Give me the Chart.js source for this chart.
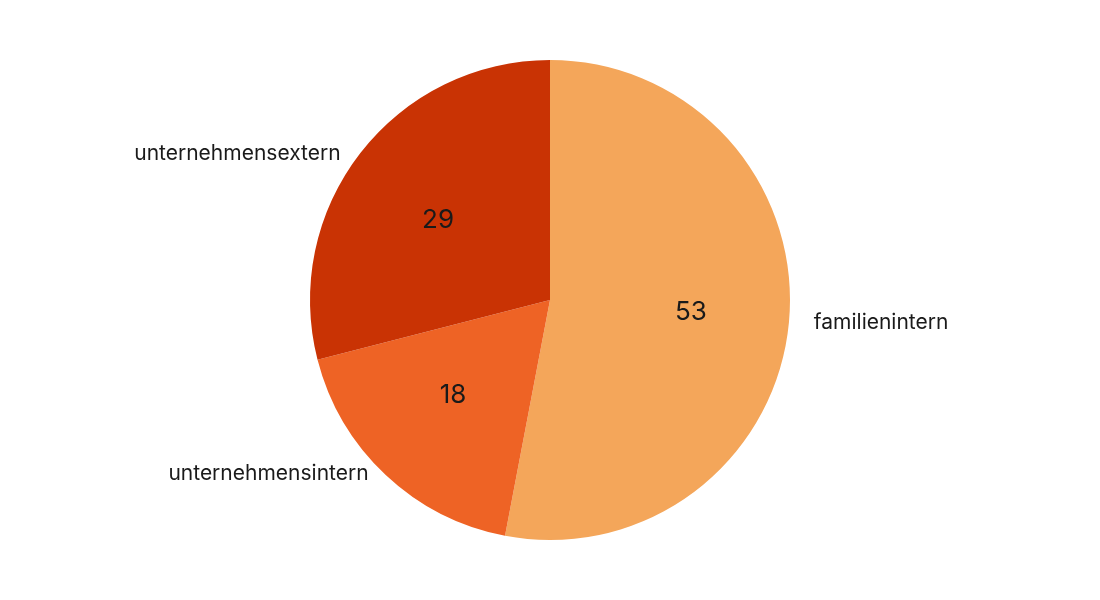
<!DOCTYPE html>
<html lang="de">
<head>
    <meta charset="UTF-8">
    <title>Nachfolge</title>
    <script src="https://cdn.jsdelivr.net/npm/chart.js"></script>
    <style>
        html, body { margin: 0; padding: 0; background: #fff; }
        #wrap { width: 1100px; height: 600px; }
    </style>
</head>
<body>
    <div id="wrap"><canvas id="pieChart" width="1100" height="600"></canvas></div>
    <script>
        // Daten
        const categories = ["familienintern", "unternehmensintern", "unternehmensextern"];
        const values = [53, 18, 29];
        const colors = ["#F4A65A", "#EE6325", "#C93304"];

        // Beschriftungen: Werte innen, Kategorien außen
        const labelPlugin = {
            id: "pieLabels",
            afterDatasetsDraw(chart) {
                const ctx = chart.ctx;
                const meta = chart.getDatasetMeta(0);
                ctx.save();
                meta.data.forEach((arc, i) => {
                    const p = arc.getProps(["x", "y", "startAngle", "endAngle", "outerRadius"], true);
                    const mid = (p.startAngle + p.endAngle) / 2;
                    const cos = Math.cos(mid), sin = Math.sin(mid);

                    // Wert
                    const ri = p.outerRadius * 0.59;
                    ctx.fillStyle = "#1a1a1a";
                    ctx.font = "26px Inter";
                    ctx.textAlign = "center";
                    ctx.textBaseline = "middle";
                    ctx.fillText(values[i], p.x + cos * ri, p.y + sin * ri * 0.92);

                    // Kategorie
                    const ro = p.outerRadius + 25;
                    ctx.font = "21px Inter";
                    ctx.textAlign = cos >= 0 ? "left" : "right";
                    ctx.fillText(categories[i], p.x + cos * ro, p.y + sin * ro * 0.9);
                });
                ctx.restore();
            }
        };

        const ctx = document.getElementById("pieChart").getContext("2d");
        new Chart(ctx, {
            type: "pie",
            data: {
                labels: categories,
                datasets: [{
                    data: values,
                    backgroundColor: colors,
                    borderWidth: 0
                }]
            },
            options: {
                responsive: false,
                animation: false,
                layout: { padding: { top: 60, bottom: 60 } },
                plugins: {
                    legend: { display: false },
                    tooltip: { enabled: false }
                }
            },
            plugins: [labelPlugin]
        });
    </script>
</body>
</html>
